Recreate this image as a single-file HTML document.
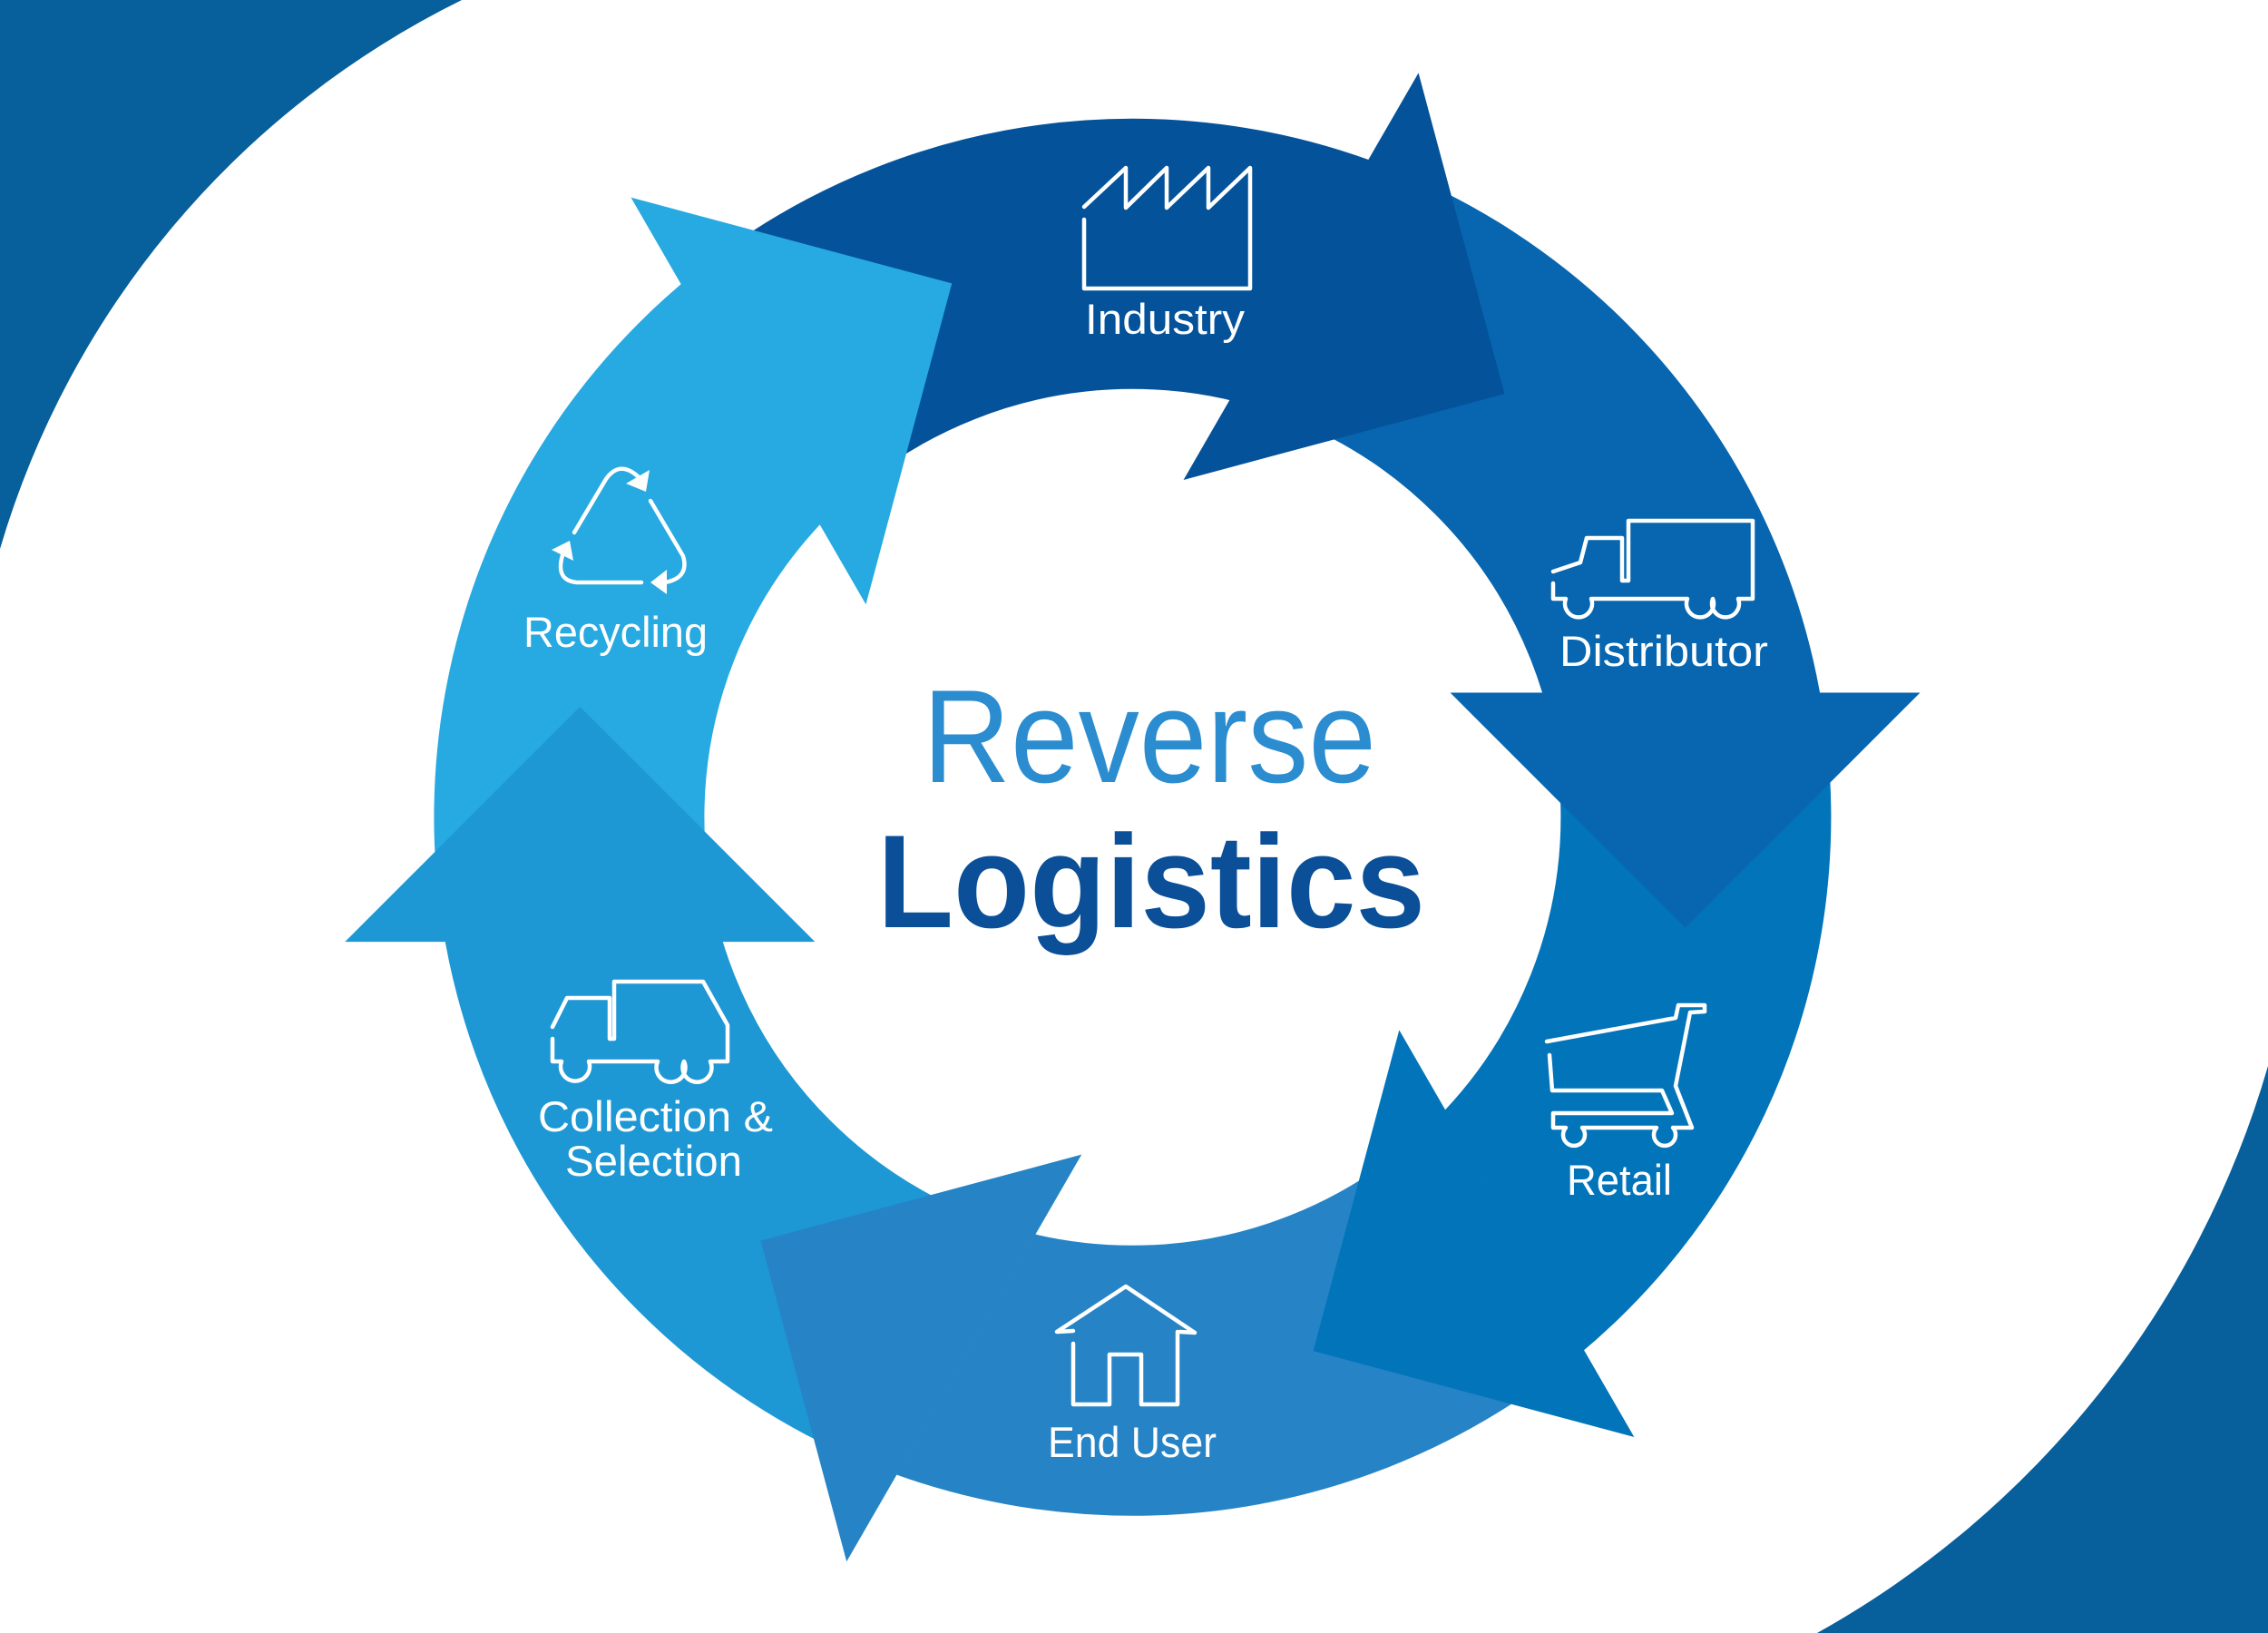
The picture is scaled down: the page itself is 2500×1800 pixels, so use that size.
<!DOCTYPE html>
<html>
<head>
<meta charset="utf-8">
<style>
  html, body { margin: 0; padding: 0; background: #ffffff; }
  svg { display: block; }
  .lbl { font-family: "Liberation Sans", "DejaVu Sans", sans-serif; font-size: 47px; fill: #ffffff; }
  .ico { fill: none; stroke: #ffffff; stroke-width: 4.5; stroke-linejoin: round; stroke-linecap: round; }
</style>
</head>
<body>
<svg xmlns="http://www.w3.org/2000/svg" width="2500" height="1800" viewBox="0 0 2500 1800">
  <defs>
    <clipPath id="c0"><polygon points="624.96,95.51 1638.41,-39.26 1338.41,480.36 1248.4,900.8 924.96,615.13"/></clipPath>
    <clipPath id="c1"><polygon points="1634.08,-41.76 2257.52,768.53 1657.52,768.53 1248.4,900.8 1334.08,477.86"/></clipPath>
    <clipPath id="c2"><polygon points="2257.52,763.53 1867.51,1708.59 1567.51,1188.97 1248.4,900.8 1657.52,763.53"/></clipPath>
    <clipPath id="c3"><polygon points="1871.84,1706.09 858.39,1840.86 1158.39,1321.24 1248.4,900.8 1571.84,1186.47"/></clipPath>
    <clipPath id="c4"><polygon points="862.72,1843.36 239.28,1033.07 839.28,1033.07 1248.4,900.8 1162.72,1323.74"/></clipPath>
    <clipPath id="c5"><polygon points="239.28,1038.07 629.29,93.01 929.29,612.63 1248.4,900.8 839.28,1038.07"/></clipPath>
  </defs>

  <!-- background -->
  <rect x="0" y="0" width="2500" height="1800" fill="#ffffff"/>
  <path d="M0,0 L509,0 A984,984 0 0,0 0,605 Z" fill="#075F9B"/>
  <path d="M2500,1800 L2500,1175 A1050,1050 0 0,1 2003,1800 Z" fill="#075F9B"/>

  <!-- ring bodies -->
  <g fill="none" stroke-width="298">
    <circle cx="1248.4" cy="900.8" r="621" stroke="#04529A" clip-path="url(#c0)"/>
    <circle cx="1248.4" cy="900.8" r="621" stroke="#0766AF" clip-path="url(#c1)"/>
    <circle cx="1248.4" cy="900.8" r="621" stroke="#0274BA" clip-path="url(#c2)"/>
    <circle cx="1248.4" cy="900.8" r="621" stroke="#2684C6" clip-path="url(#c3)"/>
    <circle cx="1248.4" cy="900.8" r="621" stroke="#1D98D4" clip-path="url(#c4)"/>
    <circle cx="1248.4" cy="900.8" r="621" stroke="#27A9E1" clip-path="url(#c5)"/>
  </g>

  <!-- arrowheads -->
  <polygon points="1563.58,80.35 1658.38,434.15 1304.58,528.95" fill="#04529A"/>
  <polygon points="2116.52,763.53 1857.52,1022.53 1598.52,763.53" fill="#0766AF"/>
  <polygon points="1801.34,1583.98 1447.54,1489.18 1542.34,1135.38" fill="#0274BA"/>
  <polygon points="933.22,1721.25 838.42,1367.45 1192.22,1272.65" fill="#2684C6"/>
  <polygon points="380.28,1038.07 639.28,779.07 898.28,1038.07" fill="#1D98D4"/>
  <polygon points="695.46,217.62 1049.26,312.42 954.46,666.22" fill="#27A9E1"/>

  <!-- center title -->
  <text x="1017" y="862" font-family="Liberation Sans, DejaVu Sans, sans-serif" font-size="146" fill="#2B8DD0" textLength="500" lengthAdjust="spacingAndGlyphs">Reverse</text>
  <text x="967" y="1022" font-family="Liberation Sans, DejaVu Sans, sans-serif" font-size="146" font-weight="bold" fill="#0A4F97" textLength="604" lengthAdjust="spacingAndGlyphs">Logistics</text>

  <!-- Industry icon -->
  <path class="ico" d="M1195,228 L1241,185 L1241,229 L1286,185 L1286,229 L1332,185 L1332,229 L1378,185 L1378,318 L1195,318 L1195,242"/>
  <text class="lbl" x="1196" y="368" textLength="176" lengthAdjust="spacingAndGlyphs">Industry</text>

  <!-- Distributor icon -->
  <path class="ico" d="M1712,630 L1742,620 L1749,593 L1788,593 L1788,640 L1795,640 L1795,574 L1932,574 L1932,660 L1916,660 A15,15 0 1,1 1888,660 A15,15 0 1,1 1860,660 L1754,660 A15,15 0 1,1 1726,660 L1712,660 L1712,643"/>
  <text class="lbl" x="1719" y="734" textLength="230" lengthAdjust="spacingAndGlyphs">Distributor</text>

  <!-- Retail icon -->
  <path class="ico" d="M1705,1148 L1847,1122 L1850,1108 L1879,1108 L1879,1115 L1863,1116 L1847,1197 L1865,1243 L1844,1243 A12,12 0 1,1 1826,1243 L1744,1243 A12,12 0 1,1 1726,1243 L1712,1243 L1712,1227 L1843,1227 L1832,1202 L1711,1202 L1708,1163"/>
  <text class="lbl" x="1727" y="1317" textLength="116" lengthAdjust="spacingAndGlyphs">Retail</text>

  <!-- End User icon -->
  <path class="ico" d="M1183,1467 L1165,1468 L1241,1418 L1317,1469 L1301,1468"/>
  <path class="ico" d="M1183,1481 L1183,1548 L1223,1548 L1223,1493 L1258,1493 L1258,1548 L1298,1548 L1298,1468"/>
  <text class="lbl" x="1155" y="1606" textLength="186" lengthAdjust="spacingAndGlyphs">End User</text>

  <!-- Collection icon -->
  <path class="ico" d="M609,1132 L625,1100 L672,1100 L672,1145 L677,1145 L677,1082 L775,1082 L802,1130 L802,1170 L783,1170 A16,16 0 1,1 754,1170 A16,16 0 1,1 725,1170 L649,1170 A16,16 0 1,1 619,1170 L609,1170 L609,1145"/>
  <text class="lbl" x="593" y="1247" textLength="259" lengthAdjust="spacingAndGlyphs">Collection &amp;</text>
  <text class="lbl" x="623" y="1296" textLength="195" lengthAdjust="spacingAndGlyphs">Selection</text>

  <!-- Recycling icon -->
  <path class="ico" d="M633,587 L668,528 Q683,507 703,525"/>
  <polygon points="690,533 716,518 712,542" fill="#ffffff"/>
  <path class="ico" d="M717,552 L753,613 Q760,637 733,642"/>
  <polygon points="717,642 735,628 735,655" fill="#ffffff"/>
  <path class="ico" d="M707,642 L636,642 Q612,640 620,612"/>
  <polygon points="628,596 608,606 632,618" fill="#ffffff"/>
  <text class="lbl" x="577" y="713" textLength="203" lengthAdjust="spacingAndGlyphs">Recycling</text>
</svg>
</body>
</html>
